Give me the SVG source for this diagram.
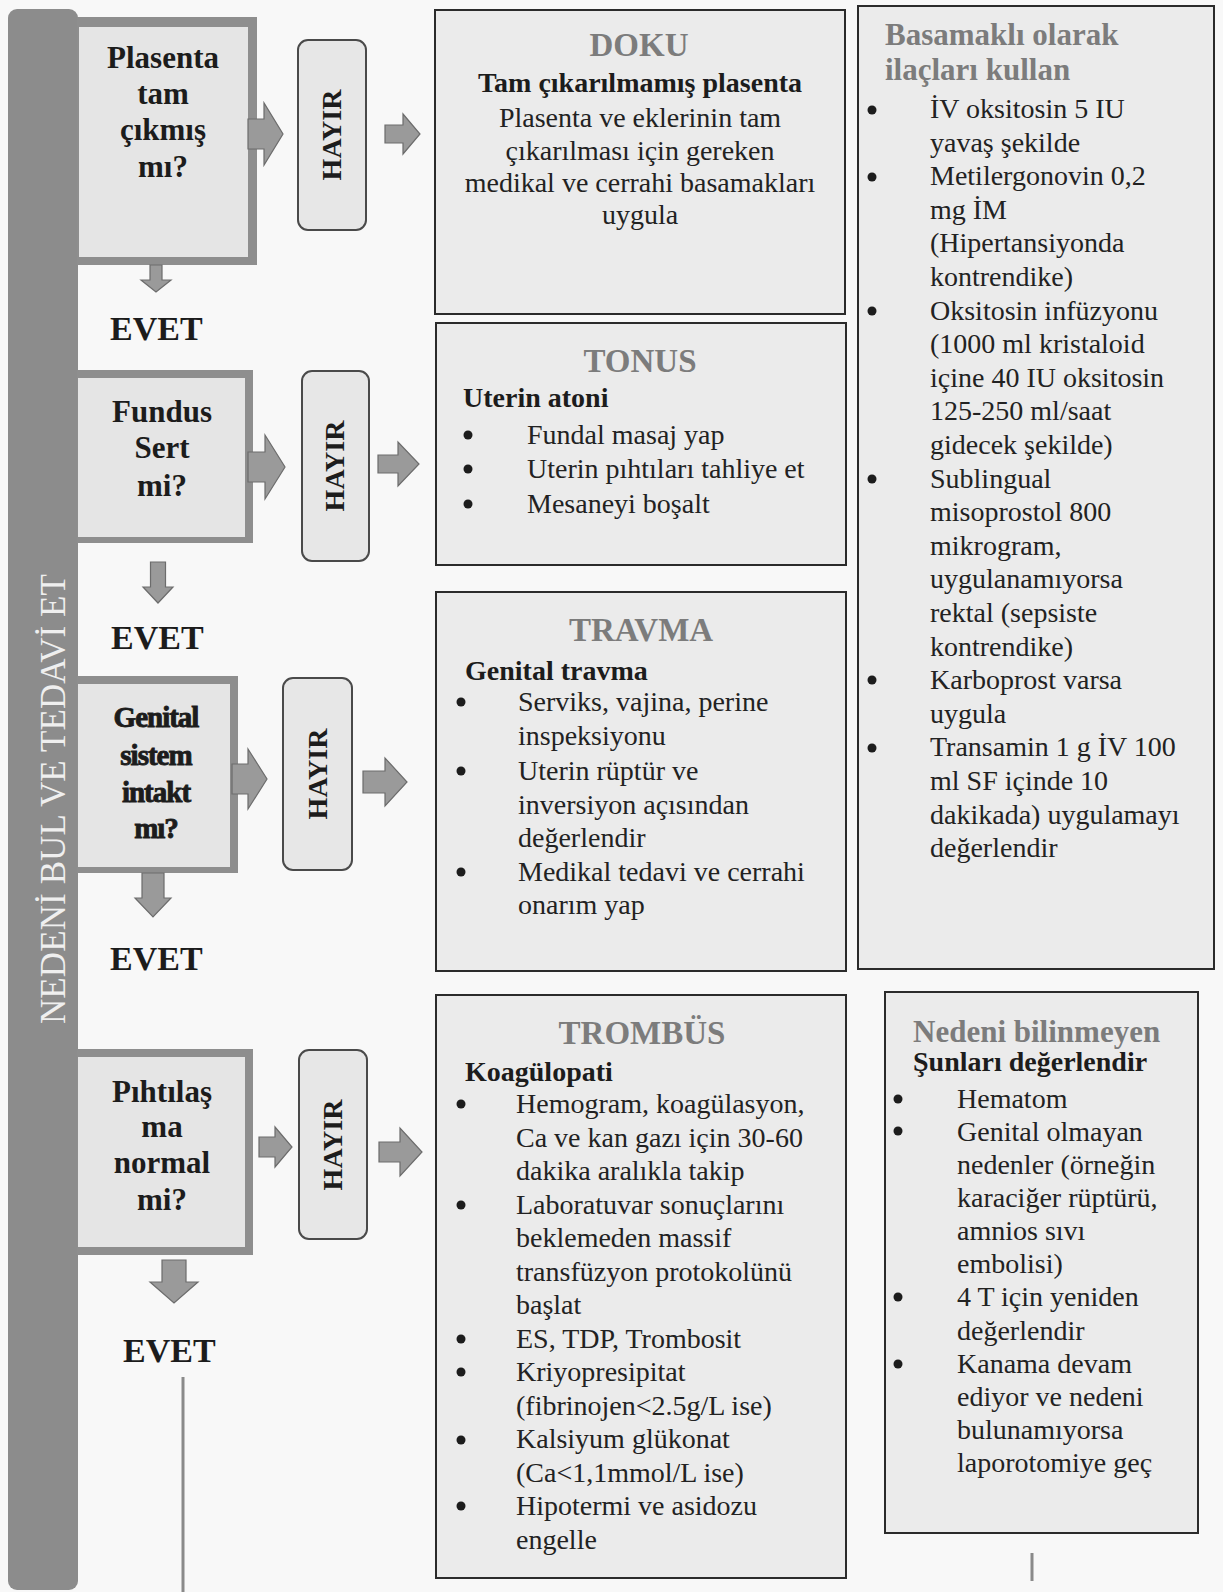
<svg xmlns="http://www.w3.org/2000/svg" width="1223" height="1592" viewBox="0 0 1223 1592">
<style>
.bg{fill:#f8f8f8}
.bar{fill:#8c8c8c}
.dout{fill:#8e8e8e}
.din{fill:#e5e5e5}
.q{font-family:"Liberation Serif",serif;font-weight:bold;font-size:31px;fill:#1c1c1c;text-anchor:middle}
.qg{font-family:"Liberation Serif",serif;font-weight:bold;font-size:29px;fill:#1c1c1c;text-anchor:middle;letter-spacing:-1px;stroke:#1c1c1c;stroke-width:0.9}
.evet{font-family:"Liberation Serif",serif;font-weight:bold;font-size:34px;fill:#1c1c1c}
.hbox{fill:#e7e7e7;stroke:#4a4a4a;stroke-width:2}
.hayir{font-family:"Liberation Serif",serif;font-weight:bold;font-size:28px;fill:#1c1c1c;text-anchor:middle}
.cbox{fill:#ebebeb;stroke:#2b2b2b;stroke-width:2}
.hdr{font-family:"Liberation Serif",serif;font-weight:bold;font-size:33px;fill:#7c7c7c;text-anchor:middle}
.hdl{font-family:"Liberation Serif",serif;font-weight:bold;font-size:31px;fill:#7c7c7c}
.sub{font-family:"Liberation Serif",serif;font-weight:bold;font-size:28px;fill:#1c1c1c}
.body{font-family:"Liberation Serif",serif;font-size:28px;fill:#222}
.bc{font-family:"Liberation Serif",serif;font-size:28px;fill:#222;text-anchor:middle}
.arrow{fill:#9a9a9a;stroke:#6c6c6c;stroke-width:1.2}
.bul{fill:#1c1c1c}
.side{font-family:"Liberation Serif",serif;font-size:35px;fill:#efefef;text-anchor:middle}
.ln{stroke:#8a8a8a;stroke-width:3}
</style>
<rect class="bg" x="0" y="0" width="1223" height="1592"/>

<g id="side-bar">
<rect class="bar" x="8" y="9" width="70" height="1581" rx="9"/>
<text class="side" transform="translate(65,799) rotate(-90)" textLength="450">NEDENİ BUL VE TEDAVİ ET</text>
</g>

<g id="q1">
<rect class="dout" x="77" y="17" width="180" height="248"/>
<rect class="din" x="79" y="27" width="169" height="230"/>
<text class="q" x="163" y="68">Plasenta</text>
<text class="q" x="163" y="104">tam</text>
<text class="q" x="163" y="140">çıkmış</text>
<text class="q" x="163" y="177">mı?</text>
</g>
<g id="q2">
<rect class="dout" x="77" y="370" width="176" height="173"/>
<rect class="din" x="78" y="378" width="167" height="159"/>
<text class="q" x="162" y="422">Fundus</text>
<text class="q" x="162" y="458">Sert</text>
<text class="q" x="162" y="496">mi?</text>
</g>
<g id="q3">
<rect class="dout" x="77" y="676" width="161" height="197"/>
<rect class="din" x="78" y="684" width="152" height="183"/>
<text class="qg" x="156" y="727">Genital</text>
<text class="qg" x="156" y="765">sistem</text>
<text class="qg" x="156" y="802">intakt</text>
<text class="qg" x="156" y="838">mı?</text>
</g>
<g id="q4">
<rect class="dout" x="77" y="1049" width="176" height="206"/>
<rect class="din" x="78" y="1057" width="167" height="190"/>
<text class="q" x="162" y="1102">Pıhtılaş</text>
<text class="q" x="162" y="1137">ma</text>
<text class="q" x="162" y="1173">normal</text>
<text class="q" x="162" y="1210">mi?</text>
</g>

<g id="evet1"><text class="evet" x="110" y="340">EVET</text></g>
<g id="evet2"><text class="evet" x="111" y="649">EVET</text></g>
<g id="evet3"><text class="evet" x="110" y="970">EVET</text></g>
<g id="evet4"><text class="evet" x="123" y="1362">EVET</text></g>

<g id="hayir1"><rect class="hbox" x="298" y="40" width="68" height="190" rx="10"/><text class="hayir" transform="translate(341,135) rotate(-90)">HAYIR</text></g>
<g id="hayir2"><rect class="hbox" x="302" y="371" width="67" height="190" rx="10"/><text class="hayir" transform="translate(344,466) rotate(-90)">HAYIR</text></g>
<g id="hayir3"><rect class="hbox" x="283" y="678" width="69" height="192" rx="10"/><text class="hayir" transform="translate(327,774) rotate(-90)">HAYIR</text></g>
<g id="hayir4"><rect class="hbox" x="299" y="1050" width="68" height="189" rx="10"/><text class="hayir" transform="translate(342,1145) rotate(-90)">HAYIR</text></g>

<g id="doku">
<rect class="cbox" x="435" y="10" width="410" height="304"/>
<text class="hdr" x="639" y="56">DOKU</text>
<text class="sub" x="640" y="92" text-anchor="middle">Tam çıkarılmamış plasenta</text>
<text class="bc" x="640" y="127">Plasenta ve eklerinin tam</text>
<text class="bc" x="640" y="160">çıkarılması için gereken</text>
<text class="bc" x="640" y="192">medikal ve cerrahi basamakları</text>
<text class="bc" x="640" y="224">uygula</text>
</g>

<g id="tonus">
<rect class="cbox" x="436" y="323" width="410" height="242"/>
<text class="hdr" x="640" y="372">TONUS</text>
<text class="sub" x="463" y="407">Uterin atoni</text>
<circle class="bul" cx="468" cy="435" r="4.5"/>
<circle class="bul" cx="468" cy="469" r="4.5"/>
<circle class="bul" cx="468" cy="504" r="4.5"/>
<text class="body" x="527" y="444">Fundal masaj yap</text>
<text class="body" x="527" y="478">Uterin pıhtıları tahliye et</text>
<text class="body" x="527" y="513">Mesaneyi boşalt</text>
</g>

<g id="travma">
<rect class="cbox" x="436" y="592" width="410" height="379"/>
<text class="hdr" x="641" y="641">TRAVMA</text>
<text class="sub" x="465" y="680">Genital travma</text>
<circle class="bul" cx="461" cy="702" r="4.5"/>
<circle class="bul" cx="461" cy="771" r="4.5"/>
<circle class="bul" cx="461" cy="872" r="4.5"/>
<text class="body" x="518" y="711">Serviks, vajina, perine</text>
<text class="body" x="518" y="745">inspeksiyonu</text>
<text class="body" x="518" y="780">Uterin rüptür ve</text>
<text class="body" x="518" y="814">inversiyon açısından</text>
<text class="body" x="518" y="847">değerlendir</text>
<text class="body" x="518" y="881">Medikal tedavi ve cerrahi</text>
<text class="body" x="518" y="914">onarım yap</text>
</g>

<g id="trombus">
<rect class="cbox" x="436" y="995" width="410" height="583"/>
<text class="hdr" x="642" y="1044">TROMBÜS</text>
<text class="sub" x="465" y="1081">Koagülopati</text>
<circle class="bul" cx="461" cy="1104" r="4.5"/>
<circle class="bul" cx="461" cy="1205" r="4.5"/>
<circle class="bul" cx="461" cy="1339" r="4.5"/>
<circle class="bul" cx="461" cy="1372" r="4.5"/>
<circle class="bul" cx="461" cy="1440" r="4.5"/>
<circle class="bul" cx="461" cy="1506" r="4.5"/>
<text class="body" x="516" y="1113">Hemogram, koagülasyon,</text>
<text class="body" x="516" y="1146.5">Ca ve kan gazı için 30-60</text>
<text class="body" x="516" y="1180">dakika aralıkla takip</text>
<text class="body" x="516" y="1213.5">Laboratuvar sonuçlarını</text>
<text class="body" x="516" y="1247">beklemeden massif</text>
<text class="body" x="516" y="1280.5">transfüzyon protokolünü</text>
<text class="body" x="516" y="1314">başlat</text>
<text class="body" x="516" y="1347.5">ES, TDP, Trombosit</text>
<text class="body" x="516" y="1381">Kriyopresipitat</text>
<text class="body" x="516" y="1414.5">(fibrinojen&lt;2.5g/L ise)</text>
<text class="body" x="516" y="1448">Kalsiyum glükonat</text>
<text class="body" x="516" y="1481.5">(Ca&lt;1,1mmol/L ise)</text>
<text class="body" x="516" y="1515">Hipotermi ve asidozu</text>
<text class="body" x="516" y="1548.5">engelle</text>
</g>

<g id="ilaclar">
<rect class="cbox" x="858" y="6" width="356" height="963"/>
<text class="hdl" x="885" y="45">Basamaklı olarak</text>
<text class="hdl" x="885" y="80">ilaçları kullan</text>
<circle class="bul" cx="872" cy="110" r="4.5"/>
<circle class="bul" cx="872" cy="177" r="4.5"/>
<circle class="bul" cx="872" cy="311" r="4.5"/>
<circle class="bul" cx="872" cy="479" r="4.5"/>
<circle class="bul" cx="872" cy="680" r="4.5"/>
<circle class="bul" cx="872" cy="748" r="4.5"/>
<text class="body" x="930" y="118">İV oksitosin 5 IU</text>
<text class="body" x="930" y="151.6">yavaş şekilde</text>
<text class="body" x="930" y="185.2">Metilergonovin 0,2</text>
<text class="body" x="930" y="218.8">mg İM</text>
<text class="body" x="930" y="252.4">(Hipertansiyonda</text>
<text class="body" x="930" y="286">kontrendike)</text>
<text class="body" x="930" y="319.6">Oksitosin infüzyonu</text>
<text class="body" x="930" y="353.2">(1000 ml kristaloid</text>
<text class="body" x="930" y="386.8">içine 40 IU oksitosin</text>
<text class="body" x="930" y="420.4">125-250 ml/saat</text>
<text class="body" x="930" y="454">gidecek şekilde)</text>
<text class="body" x="930" y="487.6">Sublingual</text>
<text class="body" x="930" y="521.2">misoprostol 800</text>
<text class="body" x="930" y="554.8">mikrogram,</text>
<text class="body" x="930" y="588.4">uygulanamıyorsa</text>
<text class="body" x="930" y="622">rektal (sepsiste</text>
<text class="body" x="930" y="655.6">kontrendike)</text>
<text class="body" x="930" y="689.2">Karboprost varsa</text>
<text class="body" x="930" y="722.8">uygula</text>
<text class="body" x="930" y="756.4">Transamin 1 g İV 100</text>
<text class="body" x="930" y="790">ml SF içinde 10</text>
<text class="body" x="930" y="823.6">dakikada) uygulamayı</text>
<text class="body" x="930" y="857.2">değerlendir</text>
</g>

<g id="nedeni">
<rect class="cbox" x="885" y="992" width="313" height="541"/>
<text class="hdl" x="913" y="1042">Nedeni bilinmeyen</text>
<text class="sub" x="913" y="1071">Şunları değerlendir</text>
<circle class="bul" cx="898" cy="1099" r="4.5"/>
<circle class="bul" cx="898" cy="1131" r="4.5"/>
<circle class="bul" cx="898" cy="1297" r="4.5"/>
<circle class="bul" cx="898" cy="1364" r="4.5"/>
<text class="body" x="957" y="1108">Hematom</text>
<text class="body" x="957" y="1141">Genital olmayan</text>
<text class="body" x="957" y="1174">nedenler (örneğin</text>
<text class="body" x="957" y="1207">karaciğer rüptürü,</text>
<text class="body" x="957" y="1240">amnios sıvı</text>
<text class="body" x="957" y="1273">embolisi)</text>
<text class="body" x="957" y="1306">4 T için yeniden</text>
<text class="body" x="957" y="1340">değerlendir</text>
<text class="body" x="957" y="1373">Kanama devam</text>
<text class="body" x="957" y="1406">ediyor ve nedeni</text>
<text class="body" x="957" y="1439">bulunamıyorsa</text>
<text class="body" x="957" y="1472">laporotomiye geç</text>
</g>

<g id="connectors">
<polygon class="arrow" points="248,119 264,119 264,103 283,134 264,165 264,149 248,149"/>
<polygon class="arrow" points="248,452 265,452 265,435 285,467 265,499 265,482 248,482"/>
<polygon class="arrow" points="232,764 248,764 248,749 267,779 248,809 248,794 232,794"/>
<polygon class="arrow" points="259,1137 275,1137 275,1127 292,1147 275,1167 275,1157 259,1157"/>
<polygon class="arrow" points="385,125 403,125 403,114 420,134 403,154 403,143 385,143"/>
<polygon class="arrow" points="378,455 398,455 398,442 419,464 398,486 398,473 378,473"/>
<polygon class="arrow" points="363,771 385,771 385,758 407,782 385,806 385,793 363,793"/>
<polygon class="arrow" points="379,1142 400,1142 400,1128 422,1152 400,1176 400,1162 379,1162"/>
<polygon class="arrow" points="150,265 162,265 162,280 171,280 156,292 141,280 150,280"/>
<polygon class="arrow" points="150.5,562 165.5,562 165.5,587 173,587 158,603 143,587 150.5,587"/>
<polygon class="arrow" points="142,873 164,873 164,898 171,898 153,917 135,898 142,898"/>
<polygon class="arrow" points="162,1260 186,1260 186,1282 198,1282 174,1303 150,1282 162,1282"/>
<line class="ln" x1="183" y1="1377" x2="183" y2="1592"/>
<line class="ln" x1="1032" y1="1553" x2="1032" y2="1581"/>
</g>
</svg>
